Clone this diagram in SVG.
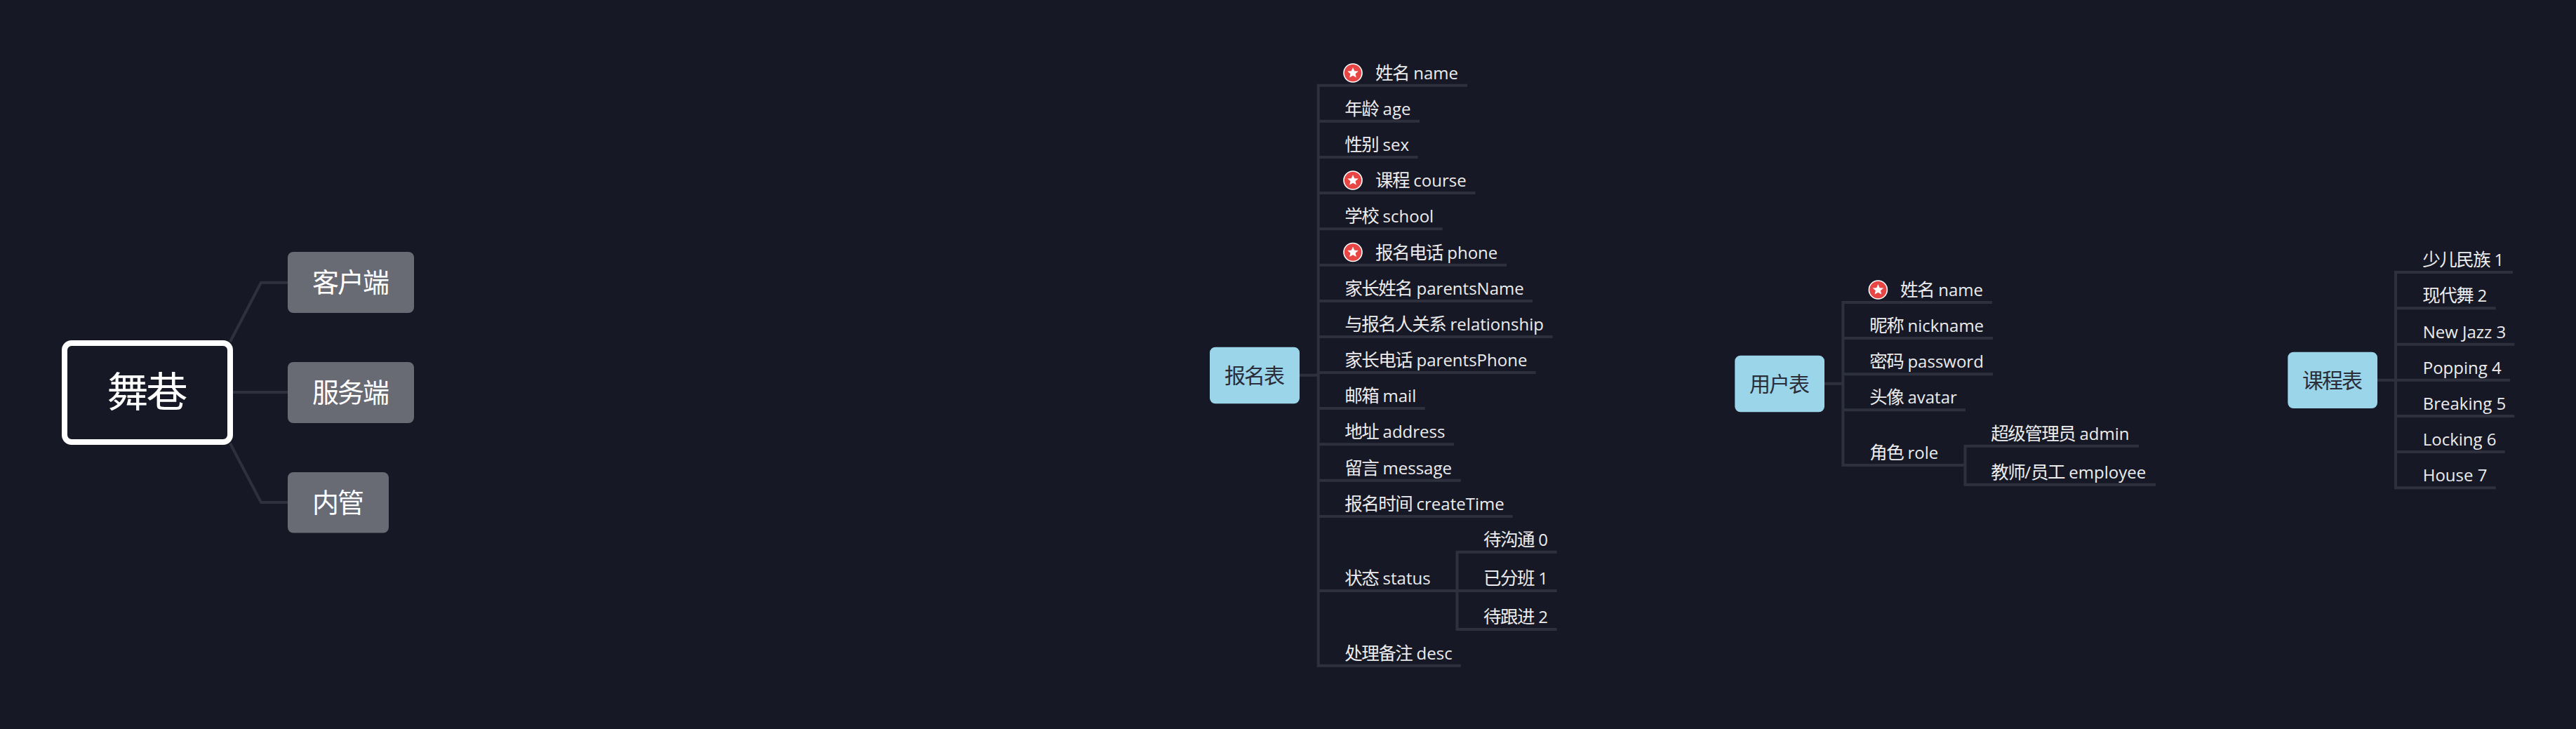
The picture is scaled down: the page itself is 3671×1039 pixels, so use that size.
<svg xmlns="http://www.w3.org/2000/svg" width="3671" height="1039" viewBox="0 0 3671 1039">
<style>
text{font-family:"Open Sans","Noto Sans CJK SC",sans-serif}
.c{fill:none;stroke:#2e303e;stroke-width:4}
.leaf{font-size:24px;fill:#ececee}
.leaf .z{font-size:25.5px;letter-spacing:-1.5px}
.tbl rect{fill:#9ad5ea}
.tbl text{font-size:30px;letter-spacing:-2px;fill:#2a2d3a;text-anchor:middle}
.top rect{fill:#686a74}
.top text{font-size:38px;letter-spacing:-2px;fill:#fff;text-anchor:middle}
</style>
<defs>
<g id="star"><circle r="13" fill="#e84545" stroke="#fff" stroke-width="1.6"/><polygon points="0,-8 2.2,-2.8 7.8,-2.4 3.5,1.2 4.9,6.6 0,3.8 -4.9,6.6 -3.5,1.2 -7.8,-2.4 -2.2,-2.8" fill="#fff"/></g>
</defs>
<rect width="3671" height="1039" fill="#161925"/>
<g id="connectors">
<path class="c" d="M328 487L372 402.7H410M332 559H410M328 632L372 716H410"/>
<path class="c" d="M1852 534.7H1878.7M1878.7 119.7V950.7M1877 121.7H2091M1878 172.7H2023M1878 224H2020.7M1878 275H2102.5M1878 326.3H2055.7M1878 377.7H2147M1878 429H2184M1878 480H2212.5M1878 531H2188.6M1878 582H2030.7M1878 633.3H2072M1878 684.7H2081.8M1878 736H2155.7M1878 842H2076.5M1877 948.7H2081.8"/>
<path class="c" d="M2076.5 784.7V899M2074.5 786.7H2218.6M2076.5 842H2218.6M2074.5 897H2218.6"/>
<path class="c" d="M2600 546.7H2626.4M2626.4 429V665M2624.4 431H2839M2626.4 482H2840M2626.4 533.3H2840M2626.4 584.3H2801M2624.4 663H2800.5"/>
<path class="c" d="M2800.5 633.7V692.7M2798.5 635.7H3048M2798.5 690.7H3072"/>
<path class="c" d="M3388 541.7H3414M3414 386V697.3M3412 388H3581M3414 439.3H3556.7M3414 490.7H3583.3M3414 541.7H3577M3414 593H3583.3M3414 644H3569.7M3412 695.3H3556.7"/>
</g>
<g id="root"><rect x="92" y="489" width="236" height="141" rx="10" fill="#161925" stroke="#fff" stroke-width="8"/><text x="208.5" y="580" font-size="59" letter-spacing="-3" fill="#fff" text-anchor="middle">舞巷</text></g>
<g id="client" class="top"><rect x="410" y="359" width="180" height="87" rx="8"/><text x="499" y="416">客户端</text></g>
<g id="server" class="top"><rect x="410" y="516" width="180" height="87" rx="8"/><text x="499" y="573">服务端</text></g>
<g id="admin" class="top"><rect x="410" y="673" width="144" height="86.5" rx="8"/><text x="481" y="730">内管</text></g>

<g id="signup" class="tbl"><rect x="1724" y="494.7" width="128" height="80.6" rx="8"/><text x="1787" y="545.5">报名表</text></g>
<g id="s-name"><use href="#star" x="1928" y="104"/><text class="leaf" x="1960" y="112.5"><tspan class="z">姓名</tspan> name</text></g>
<g id="s-age"><text class="leaf" x="1916.3" y="163.5"><tspan class="z">年龄</tspan> age</text></g>
<g id="s-sex"><text class="leaf" x="1916.3" y="215"><tspan class="z">性别</tspan> sex</text></g>
<g id="s-course"><use href="#star" x="1928" y="257"/><text class="leaf" x="1960" y="266"><tspan class="z">课程</tspan> course</text></g>
<g id="s-school"><text class="leaf" x="1916.3" y="317"><tspan class="z">学校</tspan> school</text></g>
<g id="s-phone"><use href="#star" x="1928" y="359.5"/><text class="leaf" x="1960" y="368.5"><tspan class="z">报名电话</tspan> phone</text></g>
<g id="s-pname"><text class="leaf" x="1916.3" y="420"><tspan class="z">家长姓名</tspan> parentsName</text></g>
<g id="s-rel"><text class="leaf" x="1916.3" y="471"><tspan class="z">与报名人关系</tspan> relationship</text></g>
<g id="s-pphone"><text class="leaf" x="1916.3" y="522"><tspan class="z">家长电话</tspan> parentsPhone</text></g>
<g id="s-mail"><text class="leaf" x="1916.3" y="573"><tspan class="z">邮箱</tspan> mail</text></g>
<g id="s-addr"><text class="leaf" x="1916.3" y="624.3"><tspan class="z">地址</tspan> address</text></g>
<g id="s-msg"><text class="leaf" x="1916.3" y="675.7"><tspan class="z">留言</tspan> message</text></g>
<g id="s-time"><text class="leaf" x="1916.3" y="727"><tspan class="z">报名时间</tspan> createTime</text></g>
<g id="s-status"><text class="leaf" x="1916.3" y="833"><tspan class="z">状态</tspan> status</text></g>
<g id="s-st0"><text class="leaf" x="2114" y="777.7"><tspan class="z">待沟通</tspan> 0</text></g>
<g id="s-st1"><text class="leaf" x="2114" y="833"><tspan class="z">已分班</tspan> 1</text></g>
<g id="s-st2"><text class="leaf" x="2114" y="888"><tspan class="z">待跟进</tspan> 2</text></g>
<g id="s-desc"><text class="leaf" x="1916.3" y="939.7"><tspan class="z">处理备注</tspan> desc</text></g>

<g id="user" class="tbl"><rect x="2472.3" y="506.7" width="127.7" height="80.6" rx="8"/><text x="2535" y="557.5">用户表</text></g>
<g id="u-name"><use href="#star" x="2676.4" y="413"/><text class="leaf" x="2708" y="422"><tspan class="z">姓名</tspan> name</text></g>
<g id="u-nick"><text class="leaf" x="2664.2" y="473"><tspan class="z">昵称</tspan> nickname</text></g>
<g id="u-pass"><text class="leaf" x="2664.2" y="524.3"><tspan class="z">密码</tspan> password</text></g>
<g id="u-avatar"><text class="leaf" x="2664.2" y="575.3"><tspan class="z">头像</tspan> avatar</text></g>
<g id="u-role"><text class="leaf" x="2664.2" y="654"><tspan class="z">角色</tspan> role</text></g>
<g id="u-admin"><text class="leaf" x="2837.2" y="626.7"><tspan class="z">超级管理员</tspan> admin</text></g>
<g id="u-emp"><text class="leaf" x="2837.2" y="681.7"><tspan class="z">教师</tspan>/<tspan class="z">员工</tspan> employee</text></g>

<g id="course" class="tbl"><rect x="3260.3" y="501.7" width="127.7" height="80.3" rx="8"/><text x="3323" y="552.5">课程表</text></g>
<g id="c-1"><text class="leaf" x="3452.3" y="379"><tspan class="z">少儿民族</tspan> 1</text></g>
<g id="c-2"><text class="leaf" x="3452.3" y="430.3"><tspan class="z">现代舞</tspan> 2</text></g>
<g id="c-3"><text class="leaf" x="3452.7" y="481.7">New Jazz 3</text></g>
<g id="c-4"><text class="leaf" x="3452.7" y="532.7">Popping 4</text></g>
<g id="c-5"><text class="leaf" x="3452.7" y="584">Breaking 5</text></g>
<g id="c-6"><text class="leaf" x="3452.7" y="635">Locking 6</text></g>
<g id="c-7"><text class="leaf" x="3452.7" y="686.3">House 7</text></g>
</svg>
